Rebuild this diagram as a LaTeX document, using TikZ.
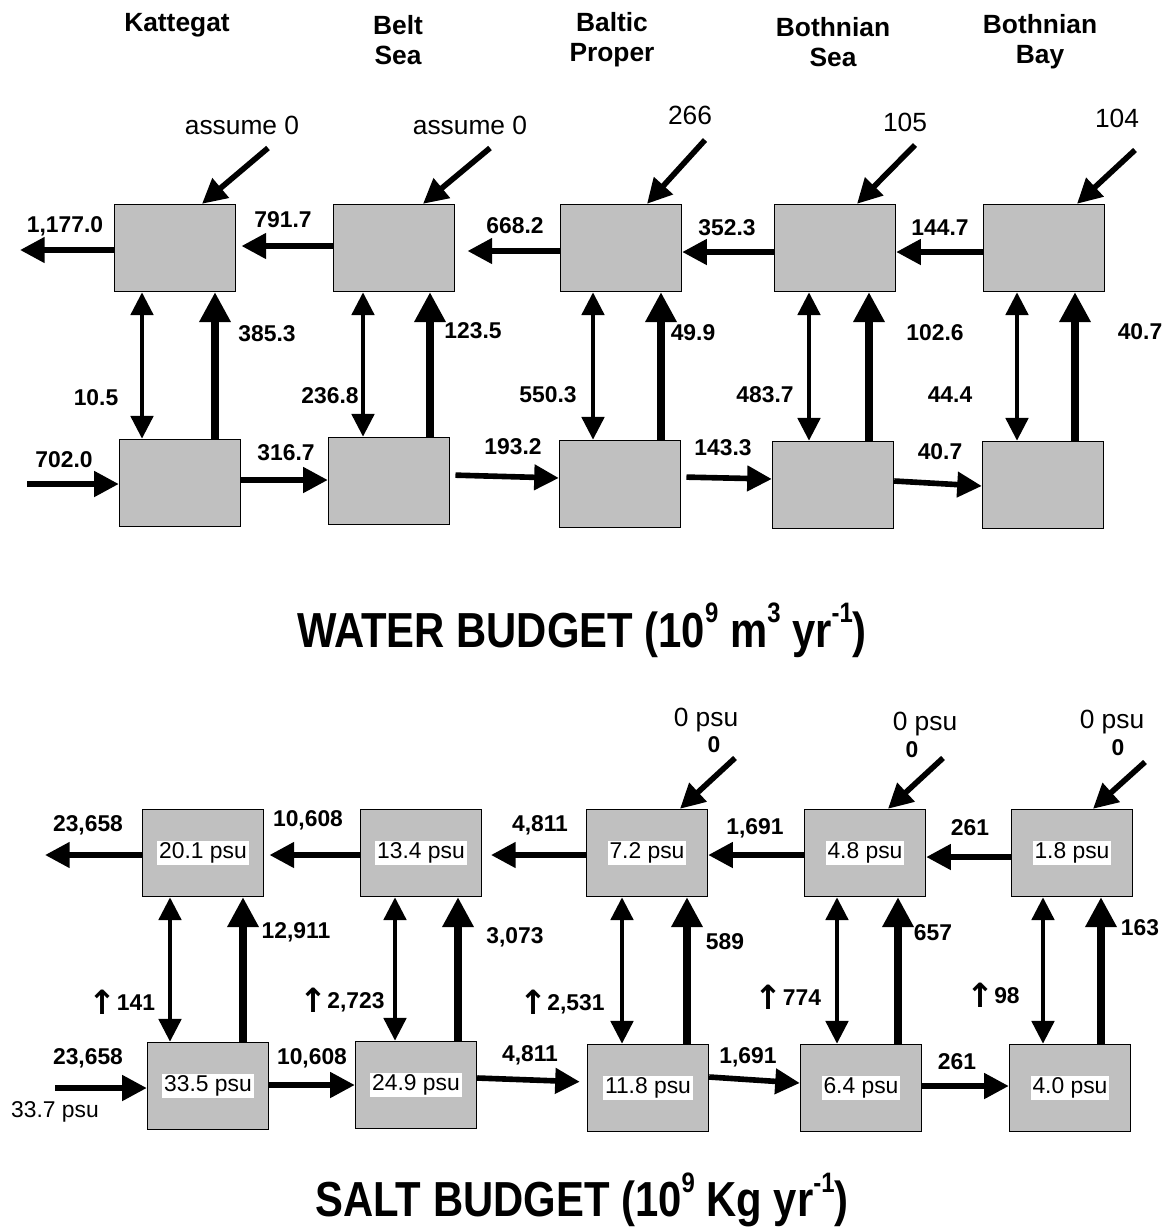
\documentclass[tikz,border=0pt]{standalone}
\usepackage{fontspec}
\setmainfont{Liberation Sans}
\newfontfamily\arrowfont{DejaVu Sans}
\usepackage{graphicx}
\usepackage{tikz}
\usetikzlibrary{arrows.meta,positioning,calc}
\definecolor{BoxGray}{HTML}{C0C0C0}
\tikzset{
  basin/.style={draw=black,line width=0.8pt,fill=BoxGray,minimum width=2.42cm,
              minimum height=1.74cm,inner sep=0pt},
  psu/.style={fill=white,inner sep=1pt,font=\fontsize{13}{15}\selectfont},
  flow/.style={-{Triangle[length=14pt,width=14pt]},line width=3.2pt},
  upflow/.style={-{Triangle[length=17pt,width=17pt]},line width=4pt},
  mixflow/.style={{Triangle[length=13pt,width=12.5pt]}-{Triangle[length=13pt,width=12.5pt]},
              line width=2.8pt},
  val/.style={font=\fontsize{13}{15}\selectfont\bfseries,inner sep=1pt},
  inval/.style={font=\fontsize{15}{17}\selectfont,inner sep=1pt},
  region/.style={font=\fontsize{15}{17}\selectfont\bfseries,align=center},
  budget/.style={font=\fontsize{28}{32}\selectfont\bfseries}
}
\newcommand{\up}{\raisebox{-0.3ex}{\fontsize{19}{19}\selectfont\arrowfont ↑}}
\newcommand{\pw}[1]{\raisebox{0.95ex}{\fontsize{16}{16}\selectfont #1}}

\begin{document}
\begin{tikzpicture}[x=0.02cm,y=-0.02cm]
  \useasboundingbox (0,0) rectangle (1167,1232);
  \node[region] (hd1) at (177,25) {Kattegat};
  \node[region] (hd2) at (398,40) {Belt\\Sea};
  \node[region] (hd3) at (612,40) {Baltic\\Proper};
  \node[region] (hd4) at (833,42) {Bothnian\\Sea};
  \node[region] (hd5) at (1040,42) {Bothnian\\Bay};

  \node[basin] (wt1) at (175,248) {};
  \node[basin] (wt2) at (394,248) {};
  \node[basin] (wt3) at (621,248) {};
  \node[basin] (wt4) at (835,248) {};
  \node[basin] (wt5) at (1044,248) {};
  \node[basin] (wb1) at (180,483) {};
  \node[basin] (wb2) at (389,481) {};
  \node[basin] (wb3) at (620,484) {};
  \node[basin] (wb4) at (833,485) {};
  \node[basin] (wb5) at (1043,485) {};

  \node[inval] (wr1) at (242,125) {assume 0};
  \node[inval] (wr2) at (470,125) {assume 0};
  \node[inval] (wr3) at (690,115) {266};
  \node[inval] (wr4) at (905,122) {105};
  \node[inval] (wr5) at (1117,118) {104};
  \coordinate (wi1) at (268,148);
  \coordinate (wi2) at (490,148);
  \coordinate (wi3) at (705,140);
  \coordinate (wi4) at (915,145);
  \coordinate (wi5) at (1135,150);
  \draw[flow] (wi1) -- (wt1.north -| 202,0);
  \draw[flow] (wi2) -- (wt2.north -| 423,0);
  \draw[flow] (wi3) -- (wt3.north -| 647,0);
  \draw[flow] (wi4) -- (wt4.north -| 857,0);
  \draw[flow] (wi5) -- (wt5.north -| 1077,0);

  \coordinate (wout) at (20,250);
  \coordinate (win) at (27,484);
  \draw[flow] (wt1.west |- 0,250) -- (wout);
  \draw[flow,shorten >=3pt] (wt2.west |- 0,246) -- (wt1.east |- 0,246);
  \draw[flow,shorten >=7pt] (wt3.west |- 0,251) -- (wt2.east |- 0,251);
  \draw[flow] (wt4.west |- 0,252) -- (wt3.east |- 0,252);
  \draw[flow] (wt5.west |- 0,252) -- (wt4.east |- 0,252);
  \draw[flow] (win) -- (wb1.west |- 0,484);
  \draw[flow] (wb1.east |- 0,480) -- (wb2.west |- 0,480);
  \draw[flow,shorten <=3pt] (wb2.east |- 0,475) -- (wb3.west |- 0,478);
  \draw[flow,shorten <=3pt] (wb3.east |- 0,477) -- (wb4.west |- 0,479);
  \draw[flow] (wb4.east |- 0,481) -- (wb5.west |- 0,486);

  \draw[mixflow] (wb1.north -| 142,0) -- (wt1.south -| 142,0);
  \draw[upflow] (wb1.north -| 215,0) -- (wt1.south -| 215,0);
  \draw[mixflow] (wb2.north -| 363,0) -- (wt2.south -| 363,0);
  \draw[upflow] (wb2.north -| 430,0) -- (wt2.south -| 430,0);
  \draw[mixflow] (wb3.north -| 593,0) -- (wt3.south -| 593,0);
  \draw[upflow] (wb3.north -| 661,0) -- (wt3.south -| 661,0);
  \draw[mixflow] (wb4.north -| 809,0) -- (wt4.south -| 809,0);
  \draw[upflow] (wb4.north -| 869,0) -- (wt4.south -| 869,0);
  \draw[mixflow] (wb5.north -| 1017,0) -- (wt5.south -| 1017,0);
  \draw[upflow] (wb5.north -| 1075,0) -- (wt5.south -| 1075,0);

  \node[val] (wv1) at (65,226) {1,177.0};
  \node[val] (wv2) at (283,220) {791.7};
  \node[val] (wv3) at (515,226) {668.2};
  \node[val] (wv4) at (727,228) {352.3};
  \node[val] (wv5) at (940,228) {144.7};
  \node[val] (wv6) at (267,334) {385.3};
  \node[val] (wv7) at (96,398) {10.5};
  \node[val] (wv8) at (330,396) {236.8};
  \node[val] (wv9) at (473,331) {123.5};
  \node[val] (wv10) at (693,333) {49.9};
  \node[val] (wv11) at (548,395) {550.3};
  \node[val] (wv12) at (765,395) {483.7};
  \node[val] (wv13) at (935,333) {102.6};
  \node[val] (wv14) at (1140,332) {40.7};
  \node[val] (wv15) at (950,395) {44.4};
  \node[val] (wv16) at (64,460) {702.0};
  \node[val] (wv17) at (286,453) {316.7};
  \node[val] (wv18) at (513,447) {193.2};
  \node[val] (wv19) at (723,448) {143.3};
  \node[val] (wv20) at (940,452) {40.7};

  \node[budget] (wtitle) at (582,630)
    {\scalebox{0.85}[1]{WATER BUDGET (10\pw{9} m\pw{3} yr\pw{-1})}};

  \node[basin] (st1) at (203,853) {};
  \node[basin] (st2) at (421,853) {};
  \node[basin] (st3) at (647,853) {};
  \node[basin] (st4) at (865,853) {};
  \node[basin] (st5) at (1072,853) {};
  \node[basin] (sb1) at (208,1086) {};
  \node[basin] (sb2) at (416,1085) {};
  \node[basin] (sb3) at (648,1088) {};
  \node[basin] (sb4) at (861,1088) {};
  \node[basin] (sb5) at (1070,1088) {};
  \node[psu] (sp1) at (st1) {20.1 psu};
  \node[psu] (sp2) at (st2) {13.4 psu};
  \node[psu] (sp3) at (st3) {7.2 psu};
  \node[psu] (sp4) at (st4) {4.8 psu};
  \node[psu] (sp5) at (st5) {1.8 psu};
  \node[psu] (sp6) at (sb1) {33.5 psu};
  \node[psu] (sp7) at (sb2) {24.9 psu};
  \node[psu] (sp8) at (sb3) {11.8 psu};
  \node[psu] (sp9) at (sb4) {6.4 psu};
  \node[psu] (sp10) at (sb5) {4.0 psu};

  \node[inval] (sr3) at (706,720) {0 psu};
  \node[val] (sz3) at (714,745) {0};
  \node[inval] (sr4) at (925,724) {0 psu};
  \node[val] (sz4) at (912,750) {0};
  \node[inval] (sr5) at (1112,722) {0 psu};
  \node[val] (sz5) at (1118,748) {0};
  \coordinate (si3) at (735,758);
  \coordinate (si4) at (943,758);
  \coordinate (si5) at (1145,762);
  \draw[flow] (si3) -- (st3.north -| 680,0);
  \draw[flow] (si4) -- (st4.north -| 888,0);
  \draw[flow] (si5) -- (st5.north -| 1093,0);

  \coordinate (sout) at (45,855);
  \coordinate (sin) at (55,1088);
  \draw[flow] (st1.west |- 0,855) -- (sout);
  \draw[flow,shorten >=3pt] (st2.west |- 0,855) -- (st1.east |- 0,855);
  \draw[flow,shorten >=5pt] (st3.west |- 0,855) -- (st2.east |- 0,855);
  \draw[flow] (st4.west |- 0,855) -- (st3.east |- 0,855);
  \draw[flow] (st5.west |- 0,857) -- (st4.east |- 0,857);
  \draw[flow] (sin) -- (sb1.west |- 0,1088);
  \draw[flow] (sb1.east |- 0,1085) -- (sb2.west |- 0,1085);
  \draw[flow,shorten >=4pt] (sb2.east |- 0,1078) -- (sb3.west |- 0,1082);
  \draw[flow] (sb3.east |- 0,1077) -- (sb4.west |- 0,1083);
  \draw[flow] (sb4.east |- 0,1086) -- (sb5.west |- 0,1086);

  \draw[mixflow] (sb1.north -| 170,0) -- (st1.south -| 170,0);
  \draw[upflow] (sb1.north -| 243,0) -- (st1.south -| 243,0);
  \draw[mixflow] (sb2.north -| 395,0) -- (st2.south -| 395,0);
  \draw[upflow] (sb2.north -| 458,0) -- (st2.south -| 458,0);
  \draw[mixflow] (sb3.north -| 622,0) -- (st3.south -| 622,0);
  \draw[upflow] (sb3.north -| 687,0) -- (st3.south -| 687,0);
  \draw[mixflow] (sb4.north -| 837,0) -- (st4.south -| 837,0);
  \draw[upflow] (sb4.north -| 898,0) -- (st4.south -| 898,0);
  \draw[mixflow] (sb5.north -| 1043,0) -- (st5.south -| 1043,0);
  \draw[upflow] (sb5.north -| 1101,0) -- (st5.south -| 1101,0);

  \node[val] (sv1) at (88,825) {23,658};
  \node[val] (sv2) at (308,820) {10,608};
  \node[val] (sv3) at (540,825) {4,811};
  \node[val] (sv4) at (755,828) {1,691};
  \node[val] (sv5) at (970,828) {261};
  \node[val] (sv6) at (296,932) {12,911};
  \node[val] (sv7) at (515,937) {3,073};
  \node[val] (sv8) at (725,942) {589};
  \node[val] (sv9) at (933,933) {657};
  \node[val] (sv10) at (1140,928) {163};
  \node[val] (sv11) at (122,1002) {\up141};
  \node[val] (sv12) at (342,1000) {\up2,723};
  \node[val] (sv13) at (562,1002) {\up2,531};
  \node[val] (sv14) at (788,997) {\up774};
  \node[val] (sv15) at (993,995) {\up98};
  \node[val] (sv16) at (88,1058) {23,658};
  \node[val] (sv17) at (312,1058) {10,608};
  \node[val] (sv18) at (530,1055) {4,811};
  \node[val] (sv19) at (748,1057) {1,691};
  \node[val] (sv20) at (957,1062) {261};
  \node[psu,fill=none] (sv21) at (55,1112) {33.7 psu};

  \node[budget] (stitle) at (582,1200)
    {\scalebox{0.85}[1]{SALT BUDGET (10\pw{9} Kg yr\pw{-1})}};
\end{tikzpicture}
\end{document}
